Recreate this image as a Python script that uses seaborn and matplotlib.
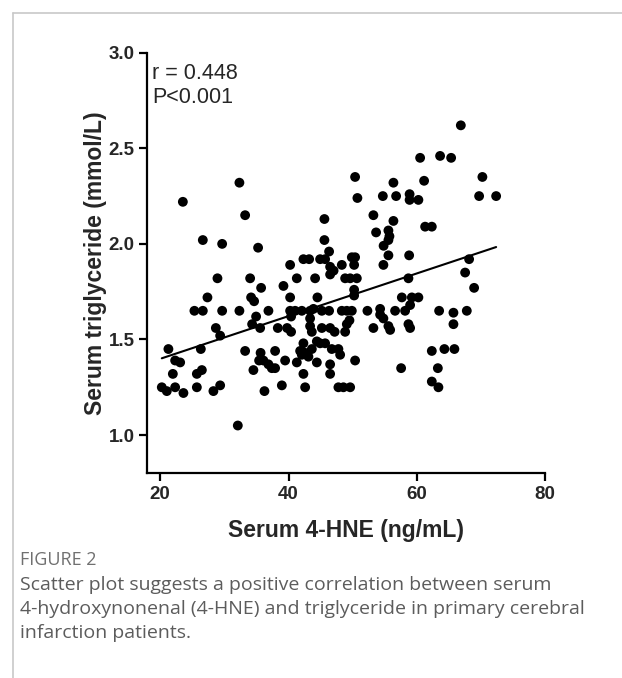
import numpy as np
import pandas as pd
import matplotlib.pyplot as plt
import seaborn as sns
from matplotlib.lines import Line2D

# values
hne = [32.35, 23.54, 33.24, 26.65, 29.66, 35.26, 28.93, 34.02, 27.37, 34.17,
       34.64, 25.34, 26.65, 29.66, 32.35, 34.95, 34.33, 28.68, 29.35, 21.29,
       26.34, 33.24, 22.34, 23.12, 21.98, 26.50, 25.72, 34.53, 35.42, 20.26,
       21.04, 22.34, 23.63, 25.72, 29.35, 28.30, 32.10, 35.73, 35.65, 35.58,
       36.09, 36.87, 37.40, 37.91, 36.25, 36.87, 37.91, 38.33, 38.96, 39.47,
       39.78, 40.40, 40.25, 40.25, 40.40, 41.03, 42.07, 41.29, 42.32, 42.59,
       42.32, 41.81, 42.07, 42.59, 43.10, 43.63, 43.36, 43.88, 43.36, 43.36,
       43.63, 44.41, 44.92, 45.70, 44.41, 44.50, 45.19, 46.32, 45.19, 46.48,
       46.74, 46.48, 46.48, 40.25, 39.21, 41.29, 44.14, 42.32, 43.21, 44.92,
       45.70, 45.59, 45.59, 46.32, 46.48, 46.48, 47.02, 48.30, 49.86, 50.37,
       50.22, 48.82, 49.60, 50.64, 50.22, 50.22, 50.37, 50.73, 53.22, 53.64,
       54.69, 56.76, 56.34, 56.34, 55.56, 55.72, 55.56, 54.81, 55.56, 54.78,
       58.86, 58.86, 60.23, 58.79, 58.68, 48.30, 49.08, 49.86, 52.29, 54.27,
       54.27, 54.78, 55.56, 55.83, 56.60, 58.16, 58.68, 58.94, 53.22, 49.49,
       49.08, 48.82, 47.18, 47.77, 48.04, 50.37, 47.77, 48.55, 49.60, 57.54,
       57.65, 59.21, 60.23, 58.94, 63.46, 65.69, 67.77, 65.69, 62.32, 64.28,
       65.84, 63.26, 62.32, 63.35, 66.84, 60.50, 63.61, 65.33, 70.20, 61.12,
       69.69, 72.34, 61.28, 62.32, 68.13, 67.51, 68.91]

tg = [2.32, 2.22, 2.15, 2.02, 2.00, 1.98, 1.82, 1.82, 1.72, 1.72,
      1.70, 1.65, 1.65, 1.65, 1.65, 1.62, 1.58, 1.56, 1.52, 1.45,
      1.45, 1.44, 1.39, 1.38, 1.32, 1.34, 1.32, 1.34, 1.39, 1.25,
      1.23, 1.25, 1.22, 1.25, 1.26, 1.23, 1.05, 1.77, 1.43, 1.56,
      1.39, 1.37, 1.35, 1.35, 1.23, 1.65, 1.44, 1.56, 1.26, 1.39,
      1.56, 1.54, 1.72, 1.65, 1.62, 1.65, 1.65, 1.38, 1.32, 1.25,
      1.48, 1.44, 1.42, 1.43, 1.41, 1.45, 1.65, 1.66, 1.61, 1.57,
      1.54, 1.49, 1.48, 1.48, 1.38, 1.72, 1.65, 1.65, 1.56, 1.56,
      1.45, 1.37, 1.32, 1.89, 1.78, 1.82, 1.82, 1.92, 1.92, 1.92,
      1.92, 2.13, 2.02, 1.96, 1.88, 1.84, 1.86, 1.89, 1.93, 1.93,
      1.89, 1.82, 1.82, 1.82, 1.76, 1.73, 2.35, 2.24, 2.15, 2.06,
      2.25, 2.25, 2.32, 2.12, 2.07, 2.04, 2.02, 1.99, 1.94, 1.89,
      2.26, 2.23, 2.23, 1.94, 1.82, 1.65, 1.65, 1.65, 1.65, 1.66,
      1.63, 1.61, 1.57, 1.55, 1.65, 1.65, 1.58, 1.56, 1.56, 1.60,
      1.58, 1.54, 1.54, 1.45, 1.42, 1.39, 1.25, 1.25, 1.25, 1.35,
      1.72, 1.72, 1.72, 1.68, 1.65, 1.64, 1.65, 1.58, 1.44, 1.45,
      1.45, 1.35, 1.28, 1.25, 2.62, 2.45, 2.46, 2.45, 2.35, 2.33,
      2.25, 2.25, 2.09, 2.09, 1.92, 1.85, 1.77]

x_ticks = [20, 40, 60, 80]
y_ticks = [1.0, 1.5, 2.0, 2.5, 3.0]
stats_text = "r = 0.448\nP<0.001"
caption_title = "FIGURE 2"
caption_body = ("Scatter plot suggests a positive correlation between serum\n"
                "4-hydroxynonenal (4-HNE) and triglyceride in primary cerebral\n"
                "infarction patients.")

df = pd.DataFrame({"hne": hne, "tg": tg})

sns.set_style("ticks")
plt.rcParams['font.family'] = ['Liberation Sans', 'DejaVu Sans']

fig = plt.figure(figsize=(6.22, 6.78), dpi=100)
ax = fig.add_axes([0.2368, 0.3019, 0.6399, 0.6204])

sns.scatterplot(x="hne", y="tg", data=df, color="black", s=50,
                edgecolor="none", ax=ax)
# least-squares line over the data range
sns.regplot(x="hne", y="tg", data=df, scatter=False, ci=None, truncate=True,
            color="black", line_kws={"linewidth": 1.5}, ax=ax)

ax.set_xlim(18, 80)
ax.set_ylim(0.8, 3.0)
ax.set_xticks(x_ticks)
ax.set_yticks(y_ticks)
ax.set_yticklabels([f"{v:.1f}" for v in y_ticks])
sns.despine(ax=ax)
for side in ["left", "bottom"]:
    ax.spines[side].set_linewidth(1.6)
    ax.spines[side].set_color("black")
ax.tick_params(length=6, width=1.6, labelsize=13.5, color="black", pad=3)
for lab in ax.get_xticklabels() + ax.get_yticklabels():
    lab.set_fontweight("bold")

ax.set_xlabel("Serum 4-HNE (ng/mL)", fontsize=16.5, fontweight="bold", labelpad=12)
ax.set_ylabel("Serum triglyceride (mmol/L)", fontsize=16.5, fontweight="bold", labelpad=1)

ax.text(0.013, 0.975, stats_text, transform=ax.transAxes, fontsize=15.5,
        va="top", ha="left")

# journal frame and caption
fig.add_artist(Line2D([13 / 622, 13 / 622], [0, 1 - 13 / 678], color="#c8c8c8", lw=1.2))
fig.add_artist(Line2D([13 / 622, 1], [1 - 13 / 678, 1 - 13 / 678], color="#c8c8c8", lw=1.2))
fig.text(20 / 622, 1 - 565 / 678, caption_title, fontsize=13, color="#707070",
         family=["Open Sans", "DejaVu Sans"], va="baseline")
fig.text(20 / 622, 1 - 576 / 678, caption_body, fontsize=14, color="#5c5c5c",
         family=["Open Sans", "DejaVu Sans"], va="top", linespacing=1.42)

fig.savefig("out.png", dpi=100)
